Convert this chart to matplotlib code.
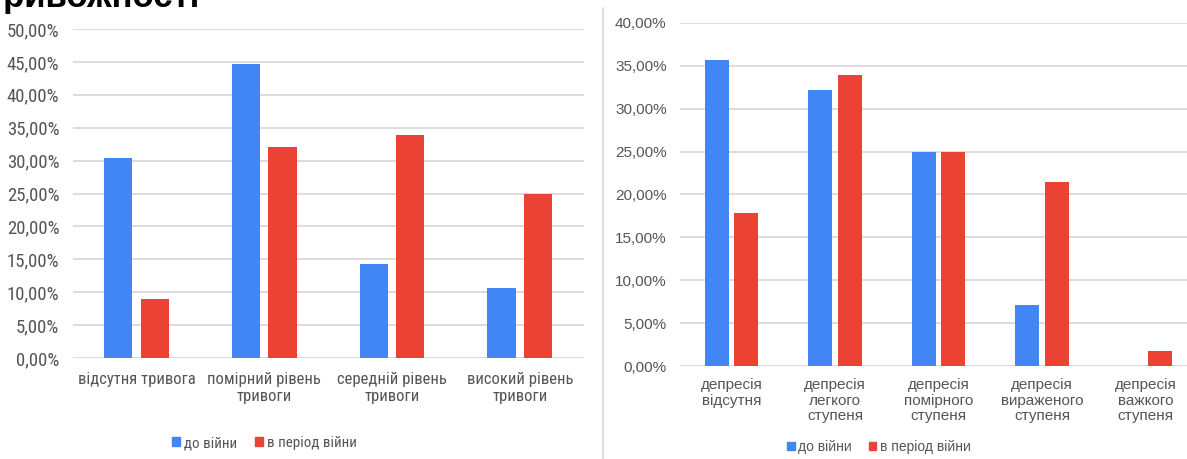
import matplotlib
matplotlib.use("Agg")
import matplotlib.pyplot as plt
from matplotlib import font_manager
from matplotlib.ticker import FuncFormatter, MultipleLocator
from matplotlib.patches import Patch
import numpy as np

# Anxiety levels (%)
anx_cats = ["відсутня тривога", "помірний рівень\nтривоги",
            "середній рівень\nтривоги", "високий рівень\nтривоги"]
anx_before = [30.36, 44.64, 14.29, 10.71]
anx_war = [8.93, 32.14, 33.93, 25.00]

# Depression levels (%)
dep_cats = ["депресія\nвідсутня", "депресія\nлегкого\nступеня",
            "депресія\nпомірного\nступеня", "депресія\nвираженого\nступеня",
            "депресія\nважкого\nступеня"]
dep_before = [35.71, 32.14, 25.00, 7.14, 0.00]
dep_war = [17.86, 33.93, 25.00, 21.43, 1.79]

series_names = ["до війни", "в період війни"]

BLUE = "#4285F4"
RED = "#EA4335"
GRID = "#d9d9d9"
TXT = "#555555"

W, H = 1187, 459
fig = plt.figure(figsize=(W / 100, H / 100), dpi=100)

installed = {f.name for f in font_manager.fontManager.ttflist}
if "Roboto Condensed" in installed:
    left_fam, scale = ["Roboto Condensed", "DejaVu Sans"], 1.0
elif "Liberation Sans Narrow" in installed:
    left_fam, scale = ["Liberation Sans Narrow", "DejaVu Sans"], 1.0
else:
    left_fam, scale = ["Roboto", "DejaVu Sans"], 0.88
left_y, left_x, left_leg = 13.5 * scale, 12 * scale, 10.8 * scale
right_fam = ["Liberation Sans", "DejaVu Sans"]

pct = FuncFormatter(lambda v, p: f"{v:.2f}".replace(".", ",") + "%")


def panel(rect, cats, before, war, ymax, width, offset, fam, ysize, xsize, xpad, lsp):
    ax = fig.add_axes(rect)
    x = np.arange(len(cats))
    ax.bar(x - offset, before, width, color=BLUE, zorder=3)
    ax.bar(x + offset, war, width, color=RED, zorder=3)
    ax.set_xlim(-0.5, len(cats) - 0.5)
    ax.set_ylim(0, ymax)
    ax.yaxis.set_major_locator(MultipleLocator(5))
    ax.yaxis.set_major_formatter(pct)
    ax.grid(axis="y", color=GRID, linewidth=1.3, zorder=0)
    for s in ax.spines.values():
        s.set_visible(False)
    ax.tick_params(axis="both", length=0)
    ax.tick_params(axis="y", pad=9.5)
    ax.tick_params(axis="x", pad=xpad)
    ax.set_xticks(x)
    ax.set_xticklabels(cats, linespacing=lsp)
    for lab in ax.get_yticklabels():
        lab.set_fontfamily(fam)
        lab.set_fontsize(ysize)
        lab.set_color(TXT)
    for lab in ax.get_xticklabels():
        lab.set_fontfamily(fam)
        lab.set_fontsize(xsize)
        lab.set_color(TXT)
    return ax


def px(x0, y0, x1, y1):
    return [x0 / W, 1 - y1 / H, (x1 - x0) / W, (y1 - y0) / H]


panel(px(72.6, 29, 583.7, 358), anx_cats, anx_before, anx_war, 50,
      0.22, 0.143, left_fam, left_y, left_x, 10, 1.2)
panel(px(679.8, 23, 1197.3, 366), dep_cats, dep_before, dep_war, 40,
      0.23, 0.1425, right_fam, 11, 11, 9, 1.1)

handles = [Patch(color=BLUE), Patch(color=RED)]
for cx, cy, fam, size in [(264, 443, left_fam, left_leg), (879, 447, right_fam, 10.0)]:
    leg = fig.legend(handles, series_names, loc="center",
                     bbox_to_anchor=(cx / W, 1 - cy / H), ncol=2, frameon=False,
                     handlelength=0.55, handleheight=0.55, handletextpad=0.25,
                     columnspacing=1.2, borderpad=0,
                     prop={"family": fam, "size": size})
    for t in leg.get_texts():
        t.set_color(TXT)

# separator between the two charts
fig.add_artist(plt.Line2D([603 / W, 603 / W], [0, 1 - 8 / H],
                          transform=fig.transFigure, color=GRID, linewidth=1.2))

# heading line above the chart
fig.text(-0.012, 1 - 7 / H, "тривожності", fontsize=25, fontweight="bold",
         family=right_fam, color="black", ha="left", va="baseline")

fig.savefig("out.png", dpi=100, facecolor="white")
